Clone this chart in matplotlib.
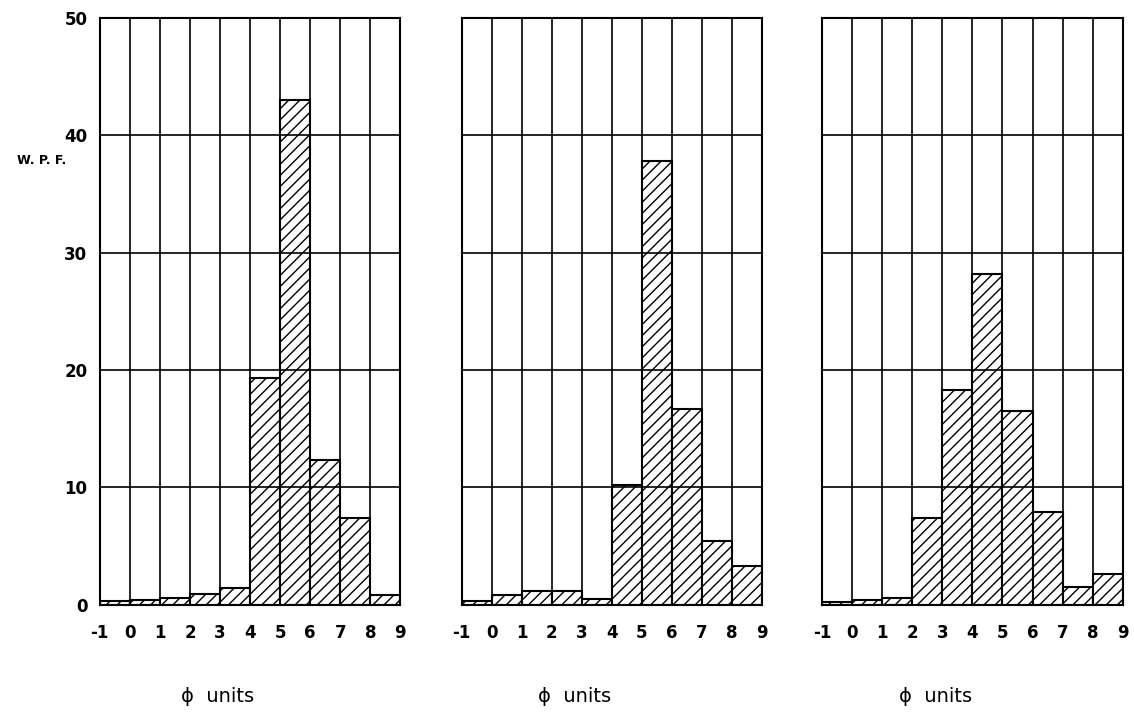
import matplotlib
matplotlib.use("Agg")
import matplotlib.pyplot as plt
import numpy as np

plt.rcParams['hatch.linewidth'] = 1.0

bin_edges = [-1, 0, 1, 2, 3, 4, 5, 6, 7, 8, 9]
x_tick_labels = ["-1", "0", "1", "2", "3", "4", "5", "6", "7", "8", "9"]
y_ticks = [0, 10, 20, 30, 40, 50]

panel1 = [0.3, 0.4, 0.6, 0.9, 1.4, 19.3, 43.0, 12.3, 7.4, 0.8]
panel2 = [0.3, 0.8, 1.2, 1.2, 0.5, 10.2, 37.8, 16.7, 5.4, 3.3]
panel3 = [0.2, 0.4, 0.6, 7.4, 18.3, 28.2, 16.5, 7.9, 1.5, 2.6]
panels = [panel1, panel2, panel3]

y_label = "W. P. F."
x_label = "\u03d5  units"

fig = plt.figure(figsize=(11.34, 7.25), dpi=100)
lefts = [0.088, 0.407, 0.725]
label_x = [0.393, 0.377, 0.379]
width = 0.265
bottom = 0.166
height = 0.809

for i, vals in enumerate(panels):
    ax = fig.add_axes([lefts[i], bottom, width, height])
    lefts_edges = np.array(bin_edges[:-1])
    widths = np.diff(bin_edges)
    ax.bar(lefts_edges, vals, width=widths, align='edge', facecolor='white',
           edgecolor='black', linewidth=1.5, hatch='///', zorder=1)
    ax.set_xlim(bin_edges[0], bin_edges[-1])
    ax.set_ylim(0, 50)
    ax.set_xticks(bin_edges)
    ax.set_yticks(y_ticks)
    ax.set_axisbelow(False)
    ax.grid(True, color='black', linewidth=1.2, zorder=2.5)
    ax.set_xticklabels(x_tick_labels, fontsize=12, fontweight='bold')
    ax.tick_params(axis='x', length=0, pad=14)
    if i == 0:
        ax.set_yticklabels([str(v) for v in y_ticks], fontsize=12, fontweight='bold')
        ax.tick_params(axis='y', length=0, pad=9)
        ax.text(-0.193, 0.757, y_label, transform=ax.transAxes, fontsize=9,
                fontweight='bold', ha='center', va='center')
    else:
        ax.tick_params(axis='y', length=0, labelleft=False)
    for s in ax.spines.values():
        s.set_linewidth(1.5)
    ax.text(label_x[i], -0.157, x_label, transform=ax.transAxes,
            fontsize=14, ha='center', va='center')

fig.savefig("out.png", dpi=100)
